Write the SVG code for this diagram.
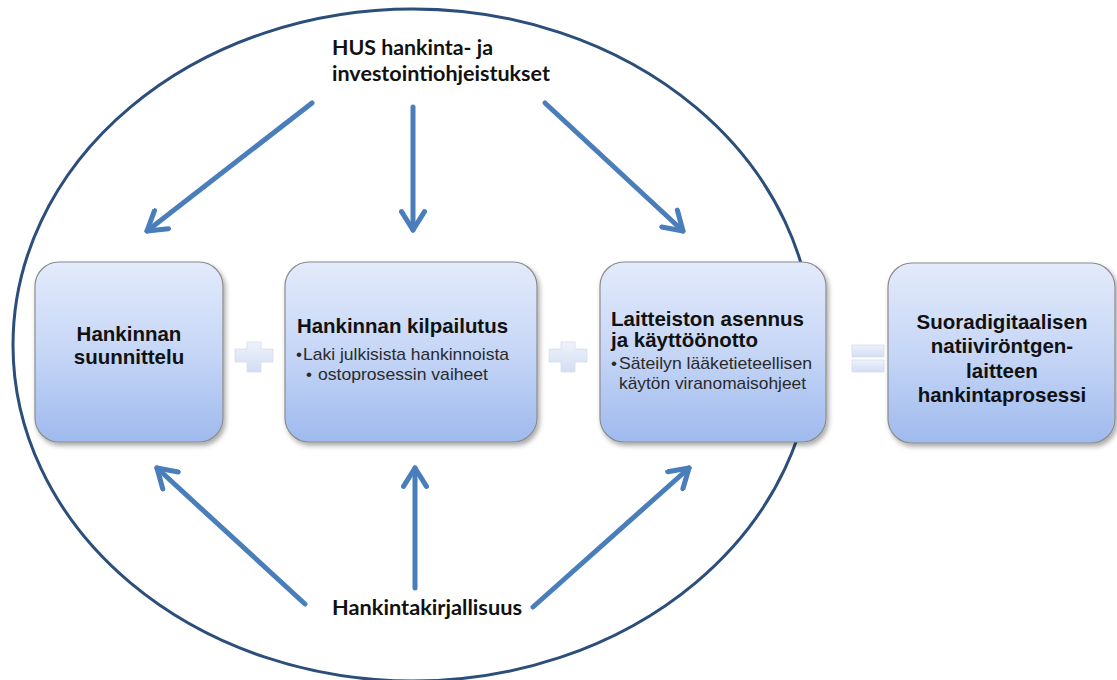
<svg xmlns="http://www.w3.org/2000/svg" width="1117" height="680" viewBox="0 0 1117 680">
<defs>
<linearGradient id="boxg" x1="0" y1="0" x2="0" y2="1">
<stop offset="0" stop-color="#e3ebfb"/>
<stop offset="0.5" stop-color="#c6d6f6"/>
<stop offset="1" stop-color="#9fbaee"/>
</linearGradient>
<linearGradient id="opg" x1="0" y1="0" x2="0" y2="1">
<stop offset="0" stop-color="#eef2fb"/>
<stop offset="1" stop-color="#d2def3"/>
</linearGradient>
<filter id="sh" x="-10%" y="-10%" width="125%" height="125%">
<feDropShadow dx="2" dy="3" stdDeviation="2.5" flood-color="#000" flood-opacity="0.35"/>
</filter>
<marker id="ah" viewBox="0 0 12 12" refX="10" refY="6" markerWidth="5.5" markerHeight="5.5" orient="auto" markerUnits="strokeWidth">
<polyline points="2,1 10,6 2,11" fill="none" stroke="#4a7ebb" stroke-width="2.2" stroke-linecap="round" stroke-linejoin="round"/>
</marker>
</defs>
<style>
.box{fill:url(#boxg);stroke:#8c8c8c;stroke-width:1.2;filter:url(#sh)}
.op{fill:url(#opg);stroke:#d6dde8;stroke-width:0.8}
.t{font-family:"Liberation Sans",Arial,sans-serif;font-weight:bold;font-size:20.5px;fill:#111}
.s{font-family:"Liberation Sans",Arial,sans-serif;font-size:17px;fill:#2a2a2a}
.c{font-family:Lato,"Open Sans",sans-serif;font-weight:bold;font-size:20px;fill:#111}
.arr{stroke:#4a7ebb;stroke-width:5;fill:none;marker-end:url(#ah);stroke-linecap:round}
</style>
<rect width="1117" height="680" fill="#fff"/>
<ellipse cx="413" cy="345" rx="400" ry="336" fill="none" stroke="#2b4e7a" stroke-width="3"/>

<g id="connectors">
<line class="arr" x1="312" y1="103" x2="147" y2="231"/>
<line class="arr" x1="413" y1="107" x2="413" y2="230"/>
<line class="arr" x1="545" y1="103" x2="683" y2="231"/>
<line class="arr" x1="305" y1="604" x2="157" y2="468"/>
<line class="arr" x1="415" y1="588" x2="415" y2="468"/>
<line class="arr" x1="533" y1="607" x2="689" y2="468"/>
</g>

<g id="ops">
<path class="op" d="M247,342 h14 v7 h12 v13 h-12 v10 h-14 v-10 h-12 v-13 h12 z"/>
<path class="op" d="M561,342 h14 v7 h12 v13 h-12 v10 h-14 v-10 h-12 v-13 h12 z"/>
<rect class="op" x="852" y="345" width="32" height="12"/>
<rect class="op" x="852" y="360" width="32" height="12"/>
</g>

<g id="node-suunnittelu">
<rect class="box" x="35" y="262" width="188" height="180" rx="24"/>
<text class="t" text-anchor="middle"><tspan x="129" y="341">Hankinnan</tspan><tspan x="129" y="364">suunnittelu</tspan></text>
</g>

<g id="node-kilpailutus">
<rect class="box" x="285" y="262" width="252" height="180" rx="24"/>
<text class="t" x="297" y="333" textLength="211" lengthAdjust="spacingAndGlyphs">Hankinnan kilpailutus</text>
<text class="s" x="296" y="360">•</text>
<text class="s" x="303" y="360" textLength="206" lengthAdjust="spacingAndGlyphs">Laki julkisista hankinnoista</text>
<text class="s" x="306" y="380">•</text>
<text class="s" x="318" y="380" textLength="170" lengthAdjust="spacingAndGlyphs">ostoprosessin vaiheet</text>
</g>

<g id="node-asennus">
<rect class="box" x="600" y="262" width="226" height="180" rx="24"/>
<text class="t" x="611" y="326" textLength="193" lengthAdjust="spacingAndGlyphs">Laitteiston asennus</text>
<text class="t" x="611" y="347">ja käyttöönotto</text>
<text class="s" x="611" y="369">•</text>
<text class="s" x="619" y="369" textLength="193" lengthAdjust="spacingAndGlyphs">Säteilyn lääketieteellisen</text>
<text class="s" x="619" y="389" textLength="187" lengthAdjust="spacingAndGlyphs">käytön viranomaisohjeet</text>
</g>

<g id="node-hankintaprosessi">
<rect class="box" x="888" y="263" width="227" height="180" rx="24"/>
<text class="t" font-size="21" text-anchor="middle"><tspan x="1002" y="329">Suoradigitaalisen</tspan><tspan x="1002" y="353">natiiviröntgen-</tspan><tspan x="1002" y="378">laitteen</tspan><tspan x="1002" y="402">hankintaprosessi</tspan></text>
</g>

<g id="node-hus">
<text class="c" x="332" y="55" textLength="161" lengthAdjust="spacingAndGlyphs">HUS hankinta- ja</text>
<text class="c" x="332" y="81" textLength="218" lengthAdjust="spacingAndGlyphs">investointiohjeistukset</text>
</g>

<g id="node-kirjallisuus">
<text class="c" x="332" y="615" textLength="190" lengthAdjust="spacingAndGlyphs">Hankintakirjallisuus</text>
</g>
</svg>
